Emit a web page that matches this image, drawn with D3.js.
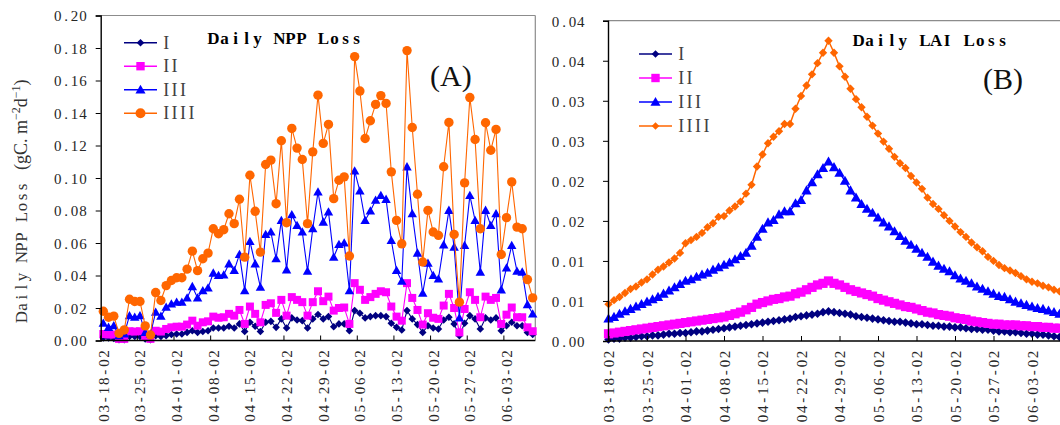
<!DOCTYPE html>
<html><head><meta charset="utf-8">
<script src="https://cdn.jsdelivr.net/npm/d3@7"></script>
<style>body{margin:0;background:#fff}svg{display:block}</style>
</head><body><svg id="c" width="1060" height="425"></svg>
<script>
// ---------- DATA ----------
const seriesNames = ["I", "II", "III", "IIII"];
const seriesColors = ["#000080", "#ff00ff", "#0000ff", "#ff6600"];

// Panel A: Daily NPP Loss (gC m-2 d-1), 03-18-02 .. 06-08-02
const nppI = [0.0015,0.0015,0.0012,0.0005,0.0005,0.0025,0.0025,0.0025,0.001,0.0005,
  0.003,0.0025,0.003,0.0037,0.004,0.004,0.005,0.006,0.005,0.0055,
  0.006,0.0077,0.0077,0.0077,0.0088,0.0077,0.0102,0.0055,0.0112,0.0088,
  0.0055,0.0112,0.0118,0.0081,0.0133,0.0077,0.0139,0.0126,0.0122,0.0077,
  0.0133,0.016,0.0133,0.0147,0.0085,0.0102,0.0102,0.006,0.0184,0.0168,
  0.0139,0.0147,0.0153,0.0153,0.0147,0.0106,0.0081,0.0065,0.0184,0.0133,
  0.0098,0.005,0.0091,0.0077,0.0071,0.0126,0.0143,0.0102,0.003,0.0106,
  0.0153,0.0133,0.0071,0.0139,0.0126,0.0139,0.006,0.0091,0.0112,0.0091,
  0.0091,0.005,0.0037];
const nppII = [0.004,0.0037,0.0037,0.001,0.001,0.0057,0.0055,0.0057,0.0024,0.001,
  0.006,0.0055,0.0071,0.0081,0.0085,0.0085,0.0098,0.0122,0.0091,0.0112,
  0.0118,0.0147,0.014,0.0143,0.0164,0.0153,0.0188,0.0102,0.0209,0.0164,
  0.0112,0.0219,0.0229,0.017,0.025,0.0153,0.0267,0.025,0.0236,0.0153,
  0.0236,0.0303,0.0242,0.027,0.0184,0.02,0.0203,0.0102,0.0353,0.0312,
  0.025,0.0267,0.0287,0.0303,0.0297,0.0209,0.0147,0.0122,0.0353,0.0262,
  0.0188,0.0098,0.0168,0.014,0.0133,0.0215,0.0287,0.02,0.005,0.0194,
  0.0297,0.025,0.0143,0.027,0.025,0.0262,0.0102,0.0159,0.0203,0.0143,
  0.0143,0.0081,0.0057];
const nppIII = [0.0106,0.0081,0.0091,0.003,0.004,0.0153,0.0143,0.0153,0.005,0.004,
  0.0174,0.015,0.0205,0.0225,0.0236,0.0236,0.0262,0.0332,0.0262,0.0307,
  0.0324,0.0415,0.04,0.0404,0.0472,0.0431,0.053,0.0307,0.061,0.0472,
  0.0328,0.0653,0.0668,0.0503,0.0739,0.0435,0.0774,0.0708,0.0668,0.0427,
  0.0688,0.0914,0.0729,0.0791,0.0513,0.0591,0.06,0.0307,0.1044,0.092,
  0.0739,0.0797,0.0863,0.0893,0.0869,0.0616,0.0431,0.0365,0.1069,0.078,
  0.0538,0.0291,0.0476,0.04,0.0379,0.0589,0.0801,0.0575,0.0139,0.0585,
  0.0893,0.0739,0.0421,0.0801,0.0708,0.078,0.0312,0.0447,0.0585,0.0427,
  0.0421,0.0221,0.0164];
const nppIIII = [0.018,0.0143,0.015,0.0044,0.0065,0.0254,0.024,0.024,0.009,0.0034,
  0.0295,0.0246,0.0338,0.0369,0.0386,0.0386,0.0439,0.055,0.043,0.0503,
  0.0538,0.0688,0.0657,0.0682,0.078,0.0719,0.0869,0.0513,0.1017,0.0795,
  0.0544,0.1083,0.111,0.0842,0.1229,0.0725,0.1305,0.1184,0.1114,0.0719,
  0.1161,0.151,0.1213,0.133,0.0873,0.0986,0.1007,0.052,0.1747,0.1535,
  0.1243,0.1352,0.1453,0.1507,0.1459,0.1038,0.0739,0.0595,0.1784,0.1311,
  0.09,0.0483,0.0801,0.0668,0.0647,0.1069,0.1342,0.0653,0.0236,0.097,
  0.1495,0.1237,0.0688,0.134,0.1171,0.1299,0.0529,0.0756,0.0976,0.0698,
  0.0688,0.0375,0.0262];

// Panel B: Daily LAI Loss
const laiI = [0.0002,0.0003,0.0003,0.0004,0.0004,0.0005,0.0006,0.0006,0.0007,0.0007,
  0.0008,0.0009,0.0009,0.001,0.001,0.0011,0.0012,0.0012,0.0013,0.0014,
  0.0015,0.0016,0.0017,0.0018,0.0019,0.002,0.0021,0.0022,0.0023,0.0024,
  0.0025,0.0026,0.0027,0.0028,0.003,0.0031,0.0032,0.0033,0.0034,0.0036,
  0.0037,0.0036,0.0035,0.0034,0.0033,0.0031,0.003,0.0029,0.0028,0.0027,
  0.0026,0.0025,0.0024,0.0024,0.0023,0.0022,0.0021,0.0021,0.002,0.0019,
  0.0019,0.0018,0.0018,0.0017,0.0017,0.0016,0.0015,0.0015,0.0014,0.0014,
  0.0013,0.0012,0.0012,0.0011,0.0011,0.001,0.0009,0.0009,0.0008,0.0008,
  0.0007,0.0006,0.0005];
const laiII = [0.0009,0.001,0.0011,0.0012,0.0013,0.0014,0.0015,0.0016,0.0017,0.0018,
  0.0019,0.002,0.0021,0.0022,0.0023,0.0024,0.0025,0.0026,0.0027,0.0028,
  0.0029,0.003,0.0032,0.0034,0.0036,0.0039,0.0042,0.0046,0.0048,0.005,
  0.0052,0.0053,0.0055,0.0056,0.0059,0.0061,0.0064,0.0067,0.007,0.0072,
  0.0075,0.0072,0.007,0.0067,0.0064,0.0062,0.006,0.0058,0.0056,0.0053,
  0.0051,0.0049,0.0047,0.0045,0.0043,0.0042,0.004,0.0038,0.0036,0.0035,
  0.0033,0.0032,0.0031,0.0029,0.0028,0.0027,0.0025,0.0024,0.0023,0.0022,
  0.0021,0.0021,0.002,0.002,0.002,0.0019,0.0019,0.0018,0.0018,0.0017,
  0.0017,0.0016,0.0016];
const laiIII = [0.0028,0.003,0.0034,0.0037,0.004,0.0043,0.0046,0.0049,0.0052,0.0055,
  0.0059,0.0063,0.0067,0.0071,0.0075,0.0077,0.008,0.0083,0.0085,0.0089,
  0.0092,0.0095,0.0098,0.0102,0.0106,0.011,0.0119,0.013,0.014,0.0148,
  0.0151,0.0158,0.0162,0.0162,0.0172,0.0176,0.0188,0.0198,0.0208,0.0216,
  0.0224,0.0217,0.021,0.02,0.0188,0.0179,0.0171,0.0165,0.016,0.0154,
  0.0148,0.0143,0.0137,0.0131,0.0125,0.012,0.0115,0.011,0.0105,0.0099,
  0.0094,0.009,0.0087,0.0082,0.0078,0.0075,0.0072,0.0068,0.0065,0.0062,
  0.0059,0.0056,0.0055,0.0052,0.0049,0.0047,0.0045,0.0043,0.0041,0.004,
  0.0038,0.0036,0.0034];
const laiIIII = [0.0046,0.0051,0.0055,0.006,0.0065,0.0068,0.0073,0.0077,0.0083,0.0089,
  0.0093,0.0098,0.0103,0.011,0.0122,0.0126,0.013,0.0135,0.0142,0.0147,
  0.0155,0.0156,0.0163,0.0168,0.0174,0.0184,0.0195,0.0218,0.0233,0.0247,
  0.0255,0.0262,0.0271,0.0271,0.029,0.0306,0.0319,0.0333,0.0347,0.036,
  0.0375,0.036,0.0343,0.033,0.0315,0.0302,0.0292,0.028,0.0269,0.0259,
  0.0249,0.024,0.023,0.0222,0.0216,0.0206,0.0198,0.019,0.0179,0.0171,
  0.0165,0.0157,0.015,0.0143,0.0136,0.013,0.0123,0.0117,0.0112,0.0105,
  0.01,0.0095,0.0091,0.0088,0.0085,0.0081,0.0077,0.0074,0.0072,0.0069,
  0.0067,0.0064,0.0062];

const xTickLabels = ["03-18-02","03-25-02","04-01-02","04-08-02","04-15-02","04-22-02",
  "04-29-02","05-06-02","05-13-02","05-20-02","05-27-02","06-03-02"];
const yTicksNPP = [0,0.02,0.04,0.06,0.08,0.10,0.12,0.14,0.16,0.18,0.20];
const yTickLabelsNPP = ["0.00","0.02","0.04","0.06","0.08","0.10","0.12","0.14","0.16","0.18","0.20"];
const yTicksLAI = [0,0.005,0.01,0.015,0.02,0.025,0.03,0.035,0.04];
const yTickLabelsLAI = ["0.00","0.01","0.01","0.02","0.02","0.03","0.03","0.04","0.04"];

// ---------- HELPERS ----------
const fmt = d3.timeFormat("%m-%d-%y");
const categories = d3.timeDay.range(new Date(2002,2,18), new Date(2002,5,9)).map(fmt);
const SERIF = "'Liberation Serif','Times New Roman',serif";
const svg = d3.select("#c");

// lay out a string as fixed-width cells (SimSun-like half-width look)
function mono(sel, str, start, adv) {
  const xs = Array.from(str).map((c, i) => (start + (i + 0.5) * adv).toFixed(2));
  sel.attr("text-anchor", "middle").attr("x", xs.join(" ")).text(str);
  return sel;
}
const markerPath = {
  diamond: s => `M0,${-s}L${s},0L0,${s}L${-s},0Z`,
  square: s => `M${-s},${-s}H${s}V${s}H${-s}Z`,
  triangle: s => `M0,${-s*1.05}L${s*1.05},${s*0.8}L${-s*1.05},${s*0.8}Z`,
  circle: s => d3.symbol(d3.symbolCircle, Math.PI * s * s)()
};

function drawPanel(cfg) {
  const g = svg.append("g");
  const {x, y, data, shapes, sizes, lw} = cfg;
  const px = d => x(d) + (x.bandwidth ? x.bandwidth() / 2 : 0);
  const [x0, x1] = cfg.frameX, [yb, yt] = y.range();
  g.append("line").attr("x1", x0).attr("x2", x1).attr("y1", yt).attr("y2", yt).attr("stroke", "#8c8c8c").attr("stroke-width", 1.2);
  if (cfg.rightFrame) g.append("line").attr("x1", x1).attr("x2", x1).attr("y1", yt).attr("y2", yb).attr("stroke", "#8c8c8c").attr("stroke-width", 1.2);

  data.forEach((vals, si) => {
    const pts = vals.map((v, i) => [px(categories[i]), y(v)]);
    g.append("path").attr("d", d3.line()(pts)).attr("fill", "none")
      .attr("stroke", seriesColors[si]).attr("stroke-width", lw);
    g.append("g").selectAll("path").data(pts).join("path")
      .attr("transform", p => `translate(${p[0]},${p[1]})`)
      .attr("d", markerPath[shapes[si]](sizes[si]))
      .attr("fill", seriesColors[si]);
  });

  const ya = g.append("g").attr("transform", `translate(${x0},0)`)
    .call(d3.axisLeft(y).tickValues(cfg.yTicks).tickSize(5).tickFormat((d, i) => cfg.yLabels[i]));
  ya.select(".domain").attr("stroke", "#000").attr("stroke-width", 1.4);
  ya.selectAll(".tick line").attr("stroke", "#000");
  ya.selectAll(".tick text").each(function(d, i) {
    const t = d3.select(this);
    const s = cfg.yLabels[i];
    t.attr("dy", "0.36em").style("font-family", SERIF).style("font-size", "15px").attr("fill", "#262626");
    mono(t, s, cfg.yLabelEnd - s.length * 8.4, 8.4);
  });

  const xTickCats = categories.filter(c => xTickLabels.includes(c));
  const xa = g.append("g").attr("transform", `translate(0,${yb})`)
    .call(d3.axisBottom(x).tickValues(xTickCats).tickSizeInner(-5).tickSizeOuter(0));
  xa.select(".domain").attr("stroke", "#000").attr("stroke-width", 1.4)
    .attr("d", `M${x0},0H${x1}`);
  xa.selectAll(".tick line").attr("stroke", "#000");
  if (x.bandwidth) xa.selectAll(".tick line").attr("x1", -x.bandwidth()/2).attr("x2", -x.bandwidth()/2);
  xa.selectAll(".tick text").each(function(d) {
    const t = d3.select(this);
    t.attr("transform", "rotate(-90)").attr("y", 0).attr("dy", "0.36em")
      .style("font-family", SERIF).style("font-size", "15px").attr("fill", "#262626");
    mono(t, d, -82, 9.15);
  });

  const lg = g.append("g");
  seriesNames.forEach((nm, si) => {
    const ly = cfg.legend.y0 + si * cfg.legend.dy;
    lg.append("line").attr("x1", cfg.legend.x).attr("x2", cfg.legend.x + 33)
      .attr("y1", ly).attr("y2", ly).attr("stroke", seriesColors[si]).attr("stroke-width", 1.5);
    lg.append("path").attr("transform", `translate(${cfg.legend.x + 16.5},${ly})`)
      .attr("d", markerPath[shapes[si]](cfg.legend.sizes[si])).attr("fill", seriesColors[si]);
    const t = lg.append("text").attr("y", ly + 6).style("font-family", SERIF)
      .style("font-size", "18px").attr("fill", "#404040");
    mono(t, nm, cfg.legend.x + 38, 8.4);
  });

  const tt = g.append("text").attr("y", cfg.title.y).style("font-family", SERIF)
    .style("font-size", "17px").style("font-weight", "bold").attr("fill", "#000");
  mono(tt, cfg.title.text, cfg.title.x, cfg.title.adv);
  g.append("text").attr("x", cfg.letter.x).attr("y", cfg.letter.y).text(cfg.letter.text)
    .style("font-family", SERIF).style("font-size", "30px").attr("fill", "#111");
}

// ---------- PANEL A ----------
const xA = d3.scaleBand().domain(categories).range([100.7, 535.3]);
const yA = d3.scaleLinear().domain([0, 0.2]).range([340.5, 15.5]);
drawPanel({
  x: xA, y: yA, data: [nppI, nppII, nppIII, nppIIII],
  shapes: ["diamond", "square", "triangle", "circle"], sizes: [3.8, 4, 4.5, 4.7], lw: 1.1,
  frameX: [100.7, 535.3], rightFrame: true,
  yTicks: yTicksNPP, yLabels: yTickLabelsNPP, yLabelEnd: -13.5,
  legend: {x: 124, y0: 42.7, dy: 23.5, sizes: [3.8, 4.2, 4.8, 5]},
  title: {text: "Daily NPP Loss", x: 208, y: 43.5, adv: 11},
  letter: {text: "(A)", x: 430, y: 86}
});

// ---------- PANEL B ----------
const xB = d3.scalePoint().domain(categories).range([608.5, 608.5 + 82 * 5.5]);
const yB = d3.scaleLinear().domain([0, 0.04]).range([341, 20.7]);
drawPanel({
  x: xB, y: yB, data: [laiI, laiII, laiIII, laiIIII],
  shapes: ["diamond", "square", "triangle", "diamond"], sizes: [4.3, 4.6, 4.9, 4.2], lw: 1.5,
  frameX: [608, 1075], rightFrame: false,
  yTicks: yTicksLAI, yLabels: yTickLabelsLAI, yLabelEnd: -23,
  legend: {x: 639, y0: 54, dy: 24, sizes: [3.8, 4.2, 4.8, 3.8]},
  title: {text: "Daily LAI Loss", x: 853, y: 46, adv: 11.07},
  letter: {text: "(B)", x: 983, y: 89}
});

// ---------- Y-axis title (panel A) ----------
const yt = svg.append("g").attr("transform", "translate(27,322) rotate(-90)");
mono(yt.append("text").style("font-family", SERIF).style("font-size", "17px").attr("fill", "#333"),
  "Daily NPP Loss", 0, 10);
const yt2 = yt.append("text").attr("x", 152).style("font-family", SERIF)
  .style("font-size", "18px").attr("fill", "#333");
yt2.append("tspan").text("(gC. m");
yt2.append("tspan").attr("dy", -7).style("font-size", "12px").text("−2");
yt2.append("tspan").attr("dy", 7).text("d");
yt2.append("tspan").attr("dy", -7).style("font-size", "12px").text("−1");
yt2.append("tspan").attr("dy", 7).text(")");
</script></body></html>
